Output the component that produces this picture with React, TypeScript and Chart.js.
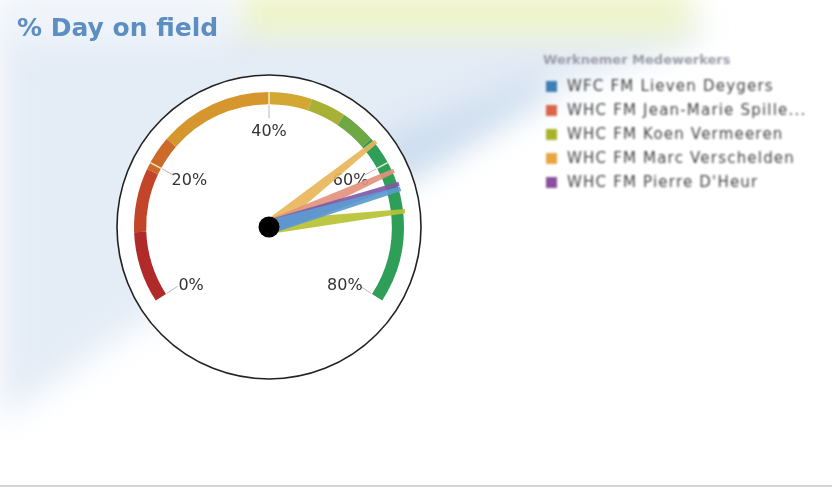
import React, { useEffect, useRef } from "react";
import { Chart, registerables } from "chart.js";

Chart.register(...registerables);

// ---- data ----
const titleText = "% Day on field";
const legendTitle = "Werknemer Medewerkers";
const needleNames = [
  "WFC FM Lieven Deygers",
  "WHC FM Jean-Marie Spille...",
  "WHC FM Koen Vermeeren",
  "WHC FM Marc Verschelden",
  "WHC FM Pierre D'Heur",
];
const needleValues = [64.0, 61.4, 67.1, 56.7, 63.3];
const needleColors = ["#5b9bd0", "#e3927c", "#b9c234", "#e8b65a", "#7e5aa8"];
const legendColors = ["#3f7fb5", "#d9664a", "#a8b428", "#e8a640", "#8a4f9e"];
const drawOrder = [2, 3, 1, 4, 0];

const gaugeMin = 0;
const gaugeMax = 80;
const sweepDeg = 246;
const bandLimits = [0, 10, 19, 24, 40, 46, 51, 56, 80];
const bandColors = ["#b02a2a", "#c2452a", "#cc6a2a", "#d6962e", "#d2a832", "#a8b036", "#6ea844", "#2f9e58"];
const tickValues = [0, 20, 40, 60, 80];
const tickLabels = ["0%", "20%", "40%", "60%", "80%"];

const bandSizes = bandLimits.slice(1).map((v, i) => v - bandLimits[i]);
const fillerSize = (gaugeMax - gaugeMin) * (360 / sweepDeg - 1);

const W = 832;
const H = 489;

const backgroundPlugin = {
  id: "bg",
  beforeDraw(chart: any) {
    const ctx = chart.ctx as CanvasRenderingContext2D;
    ctx.save();
    ctx.fillStyle = "#ffffff";
    ctx.fillRect(0, 0, W, H);
    ctx.filter = "blur(16px)";
    // light blue swoosh
    ctx.fillStyle = "#e4ecf6";
    ctx.beginPath();
    ctx.moveTo(0, 20);
    ctx.lineTo(700, 20);
    ctx.lineTo(700, 40);
    ctx.lineTo(545, 95);
    ctx.lineTo(420, 172);
    ctx.lineTo(130, 330);
    ctx.lineTo(0, 420);
    ctx.closePath();
    ctx.fill();
    // darker strip along the lower edge on the right
    ctx.fillStyle = "#cbdcee";
    ctx.beginPath();
    ctx.moveTo(380, 140);
    ctx.lineTo(540, 75);
    ctx.lineTo(548, 92);
    ctx.lineTo(420, 170);
    ctx.lineTo(380, 185);
    ctx.closePath();
    ctx.fill();
    // top yellow-green glow
    ctx.fillStyle = "#edf3c4";
    ctx.fillRect(240, -10, 450, 44);
    // top-left whitish
    ctx.fillStyle = "#eef3f9";
    ctx.fillRect(0, -10, 230, 55);
    ctx.filter = "none";
    // bottom line
    ctx.fillStyle = "#d4d4d4";
    ctx.fillRect(0, 485, W, 2);
    ctx.restore();
  },
};

function angleFor(chart: any, v: number) {
  const arc = chart.getDatasetMeta(0).data[0];
  const total = (gaugeMax - gaugeMin) + fillerSize;
  return arc.startAngle + ((v - gaugeMin) / total) * Math.PI * 2;
}

const gaugePlugin = {
  id: "gauge",
  beforeDatasetsDraw(chart: any) {
    const arc = chart.getDatasetMeta(0).data[0];
    if (!arc) return;
    const ctx = chart.ctx as CanvasRenderingContext2D;
    ctx.save();
    ctx.beginPath();
    ctx.arc(arc.x, arc.y, arc.outerRadius + 17, 0, Math.PI * 2);
    ctx.fillStyle = "#ffffff";
    ctx.fill();
    ctx.lineWidth = 1.6;
    ctx.strokeStyle = "#222";
    ctx.stroke();
    ctx.restore();
  },
  afterDatasetsDraw(chart: any) {
    const arc = chart.getDatasetMeta(0).data[0];
    if (!arc) return;
    const ctx = chart.ctx as CanvasRenderingContext2D;
    const cx = arc.x;
    const cy = arc.y;
    const R = arc.outerRadius;
    const r0 = arc.innerRadius;
    ctx.save();
    // ticks
    tickValues.forEach((v, i) => {
      const a = angleFor(chart, v);
      const c = Math.cos(a);
      const s = Math.sin(a);
      if (v !== gaugeMin && v !== gaugeMax) {
        ctx.strokeStyle = "rgba(255,250,220,0.85)";
        ctx.lineWidth = 1.5;
        ctx.beginPath();
        ctx.moveTo(cx + c * r0, cy + s * r0);
        ctx.lineTo(cx + c * R, cy + s * R);
        ctx.stroke();
      }
      ctx.strokeStyle = "#b8b8b8";
      ctx.lineWidth = 1;
      ctx.beginPath();
      ctx.moveTo(cx + c * (r0 - 1), cy + s * (r0 - 1));
      ctx.lineTo(cx + c * (r0 - 14), cy + s * (r0 - 14));
      ctx.stroke();
      ctx.fillStyle = "#333";
      ctx.font = "16px 'DejaVu Sans', sans-serif";
      ctx.textAlign = "center";
      ctx.textBaseline = "middle";
      const rl = r0 - 30;
      const extraY = Math.abs(v - (gaugeMin + gaugeMax) / 2) > 30 ? 8 : -2;
      ctx.fillText(tickLabels[i], cx + c * rl + (v === 80 ? -2 : v === 20 ? 2 : 0), cy + s * rl + extraY);
    });
    // needles
    ctx.filter = "blur(0.5px)";
    drawOrder.forEach((idx) => {
      const a = angleFor(chart, needleValues[idx]);
      const c = Math.cos(a);
      const s = Math.sin(a);
      const px = -s;
      const py = c;
      const len = R + 2;
      const bw = 7;
      const tw = 2.2;
      ctx.fillStyle = needleColors[idx];
      ctx.globalAlpha = 0.92;
      ctx.beginPath();
      ctx.moveTo(cx + px * bw, cy + py * bw);
      ctx.lineTo(cx + c * len + px * tw, cy + s * len + py * tw);
      ctx.lineTo(cx + c * len - px * tw, cy + s * len - py * tw);
      ctx.lineTo(cx - px * bw, cy - py * bw);
      ctx.closePath();
      ctx.fill();
    });
    ctx.globalAlpha = 1;
    ctx.filter = "none";
    // hub
    ctx.beginPath();
    ctx.arc(cx, cy, 10.5, 0, Math.PI * 2);
    ctx.fillStyle = "#000";
    ctx.fill();
    ctx.restore();
  },
};

export default function App() {
  const ref = useRef<HTMLCanvasElement | null>(null);
  useEffect(() => {
    if (!ref.current) return;
    const chart = new Chart(ref.current, {
      type: "doughnut",
      data: {
        labels: [...bandSizes.map((_, i) => `band${i}`), "rest"],
        datasets: [
          {
            data: [...bandSizes, fillerSize],
            backgroundColor: [...bandColors, "rgba(0,0,0,0)"],
            borderWidth: 0,
          },
        ],
      },
      options: {
        responsive: false,
        animation: false,
        rotation: -sweepDeg / 2,
        circumference: 360,
        radius: 135,
        cutout: "91%",
        layout: { padding: { left: 100, right: 394, top: 70, bottom: 105 } },
        plugins: {
          legend: { display: false },
          tooltip: { enabled: false },
          title: { display: false },
        },
        events: [],
      },
      plugins: [backgroundPlugin, gaugePlugin],
    } as any);
    return () => chart.destroy();
  }, []);

  return (
    <div style={{ position: "fixed", left: 0, top: 0, width: W, height: H, overflow: "hidden", background: "#fff" }}>
      <canvas ref={ref} width={W} height={H} style={{ position: "absolute", left: 0, top: 0, width: W, height: H }} />
      <div
        style={{
          position: "absolute",
          left: 17,
          top: 14,
          font: "bold 25px 'DejaVu Sans', sans-serif",
          lineHeight: "28px",
          color: "#5d8ec2",
          whiteSpace: "nowrap",
        }}
      >
        {titleText}
      </div>
      <div
        style={{
          position: "absolute",
          left: 543,
          top: 50,
          font: "13px 'DejaVu Sans', sans-serif",
          filter: "blur(1.3px)",
          whiteSpace: "nowrap",
        }}
      >
        <div style={{ color: "#9a9aa8", fontWeight: "bold", lineHeight: "20px", marginBottom: 4 }}>{legendTitle}</div>
        {needleNames.map((n, i) => (
          <div key={n} style={{ display: "flex", alignItems: "center", height: 24 }}>
            <span
              style={{ display: "inline-block", width: 11, height: 11, background: legendColors[i], marginLeft: 3, marginRight: 10 }}
            />
            <span style={{ color: "#444", fontSize: 15, letterSpacing: 1.2 }}>{n}</span>
          </div>
        ))}
      </div>
    </div>
  );
}
